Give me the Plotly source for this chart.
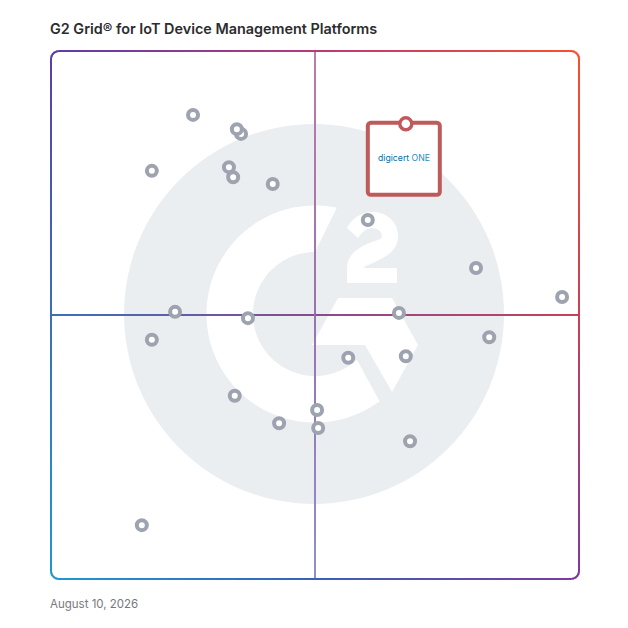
import math
import plotly.graph_objects as go

# vendor positions on the 0-100 grid (satisfaction / market presence)
x_vals = [26.9, 36.0, 35.2, 19.1, 33.7, 34.5, 42.0, 60.0, 80.5, 96.8, 23.5, 37.3,
          65.9, 19.1, 83.0, 56.3, 67.2, 34.8, 43.2, 50.4, 50.6, 68.0, 17.2]
y_vals = [87.9, 84.3, 85.2, 77.3, 78.0, 76.1, 74.8, 68.0, 58.9, 53.4, 50.6, 49.4,
          50.4, 45.3, 45.8, 41.9, 42.2, 34.7, 29.5, 32.0, 28.6, 26.1, 10.2]
featured_x = [67.2]
featured_y = [86.2]

title_text = "G2 Grid® for IoT Device Management Platforms"
date_text = "August 10, 2026"

# gradient colours: rows top/middle/bottom, columns left/middle/right
grid_colors = [["#5a3ea8", "#b83a78", "#f8502e"],
               ["#3a70b8", "#8a4a90", "#c84058"],
               ["#1f98d0", "#3a60b8", "#7a3c9c"]]
vertical_colors = ["#bb7cae", "#9a72ae", "#8f8fd0"]

LEFT, TOP, SIZE = 51, 51, 528
PAD_PX = 6  # pixels kept outside the frame so its stroke is not clipped
PAD = PAD_PX / SIZE * 100
LOGO = "#ebeef1"
GRAY = "#9ea3b0"
CARD = "#bf5a5a"


def dx(px):
    return (px - LEFT) / SIZE * 100


def dy(py):
    return (TOP + SIZE - py) / SIZE * 100


def paper_x(px):
    return (px - LEFT + PAD_PX) / (SIZE + 2 * PAD_PX)


def paper_y(py):
    return (TOP + SIZE + PAD_PX - py) / (SIZE + 2 * PAD_PX)


def mix(c1, c2, t):
    a = [int(c1[i:i + 2], 16) for i in (1, 3, 5)]
    b = [int(c2[i:i + 2], 16) for i in (1, 3, 5)]
    return [a[i] + (b[i] - a[i]) * t for i in range(3)]


def to_hex(rgb):
    return "#%02x%02x%02x" % tuple(int(round(v)) for v in rgb)


def mix3(c, t):
    return to_hex(mix(c[0], c[1], t * 2)) if t < 0.5 else to_hex(mix(c[1], c[2], t * 2 - 1))


def grid_color(u, v):
    cols = [mix3(row, u) for row in grid_colors]
    return mix3(cols, v)


def seg(x0, y0, x1, y1, color, width=2):
    # run a little past the end so neighbouring pieces leave no seam
    n = math.hypot(x1 - x0, y1 - y0) or 1
    x1 = x1 + (x1 - x0) / n * 0.8
    y1 = y1 + (y1 - y0) / n * 0.8
    return dict(type="line", xref="x", yref="y", x0=dx(x0), y0=dy(y0), x1=dx(x1), y1=dy(y1),
                line=dict(color=color, width=width), layer="below")


def arc_pts(cx, cy, r, a0, a1, n=60):
    # angles in degrees, clockwise from the top
    pts = []
    for i in range(n + 1):
        a = math.radians(a0 + (a1 - a0) * i / n)
        pts.append((cx + r * math.sin(a), cy - r * math.cos(a)))
    return pts


def poly_path(pts):
    return "M " + " L ".join("%.3f,%.3f" % (dx(p[0]), dy(p[1])) for p in pts) + " Z"


def filled(path, color):
    return dict(type="path", xref="x", yref="y", path=path, fillcolor=color,
                line=dict(width=0), layer="below")


shapes = []

# big grey disc of the logo
shapes.append(dict(type="circle", xref="x", yref="y", x0=dx(124), x1=dx(504), y0=dy(124), y1=dy(504),
                   fillcolor=LOGO, line=dict(width=0), layer="below"))

# white G: outer arc anticlockwise, inner arc back
g_pts = arc_pts(315, 314, 108.5, 11.6, -216.5, 120) + [(357, 360)] + arc_pts(315, 314, 62, -222, 0, 80)
shapes.append(filled(poly_path(g_pts), "#ffffff"))

# the bar of the G
bar_pts = [(338, 298), (392, 298), (418, 345), (392, 392), (365, 345), (312, 345)]
shapes.append(filled(poly_path(bar_pts), "#ffffff"))

# the small 2
two = [("M", [(347, 228)]),
       ("C", [(352, 218), (362, 212), (372, 212)]),
       ("C", [(387, 212), (398, 222), (398, 236)]),
       ("C", [(398, 250), (387, 256), (377, 261)]),
       ("C", [(370, 265), (365, 265), (364, 268)]),
       ("L", [(397, 268)]), ("L", [(397, 283)]), ("L", [(347, 283)]), ("L", [(347, 268)]),
       ("C", [(347, 256), (356, 249), (367, 244)]),
       ("C", [(376, 240), (382, 240), (382, 236)]),
       ("C", [(382, 231), (377, 228), (372, 228)]),
       ("C", [(367, 228), (362, 232), (358, 238)])]
two_path = " ".join(c + " " + " ".join("%.3f,%.3f" % (dx(p[0]), dy(p[1])) for p in pts) for c, pts in two) + " Z"
shapes.append(filled(two_path, "#ffffff"))

# quadrant lines, cut in short pieces for the gradient
for i in range(0, 528, 6):
    shapes.append(seg(51 + i, 315, 51 + i + 6, 315, grid_color((i + 3) / 528, 0.5)))
    shapes.append(seg(315, 51 + i, 315, 51 + i + 6, mix3(vertical_colors, (i + 3) / 528)))

# rounded outer frame with the same gradient
R = 8
R_L, R_T, R_R, R_B = 51, 51, 579, 579
frame = []
frame += [(x, R_T) for x in range(R_L + R, R_R - R, 6)]
frame += arc_pts(R_R - R, R_T + R, R, 0, 90, 5)
frame += [(R_R, y) for y in range(R_T + R, R_B - R, 6)]
frame += arc_pts(R_R - R, R_B - R, R, 90, 180, 5)
frame += [(x, R_B) for x in range(R_R - R, R_L + R, -6)]
frame += arc_pts(R_L + R, R_B - R, R, 180, 270, 5)
frame += [(R_L, y) for y in range(R_B - R, R_T + R, -6)]
frame += arc_pts(R_L + R, R_T + R, R, 270, 360, 5)
frame.append(frame[0])
for p, q in zip(frame[:-1], frame[1:]):
    mx, my = (p[0] + q[0]) / 2, (p[1] + q[1]) / 2
    shapes.append(seg(p[0], p[1], q[0], q[1], grid_color((mx - 51) / 528, (my - 51) / 528)))

# card of the highlighted product, hung from its point
fx = LEFT + featured_x[0] / 100 * SIZE
fy = TOP + SIZE - featured_y[0] / 100 * SIZE
card_pts = (arc_pts(fx - 35, fy + 2, 3, 270, 360, 4) + arc_pts(fx + 31, fy + 2, 3, 0, 90, 4)
            + arc_pts(fx + 31, fy + 68, 3, 90, 180, 4) + arc_pts(fx - 35, fy + 68, 3, 180, 270, 4))
shapes.append(dict(type="path", xref="x", yref="y", path=poly_path(card_pts), fillcolor="#ffffff",
                   line=dict(color=CARD, width=4), layer="below"))

fig = go.Figure()
fig.add_trace(go.Scatter(x=x_vals, y=y_vals, mode="markers", hoverinfo="skip", cliponaxis=False,
                         marker=dict(size=10, color="#ffffff", line=dict(color=GRAY, width=4))))
fig.add_trace(go.Scatter(x=featured_x, y=featured_y, mode="markers", hoverinfo="skip", cliponaxis=False,
                         marker=dict(size=12, color="#ffffff", line=dict(color=CARD, width=3.5))))

annotations = [
    dict(text=title_text, xref="paper", yref="paper", x=paper_x(48), y=paper_y(29),
         xanchor="left", yanchor="middle", showarrow=False,
         font=dict(family="Inter", size=14.4, weight=600, color="#2c2c2e")),
    dict(text=date_text, xref="paper", yref="paper", x=paper_x(48), y=paper_y(604),
         xanchor="left", yanchor="middle", showarrow=False,
         font=dict(family="Inter", size=11.5, color="#77787c")),
    dict(text="<span style='color:#0070a8'>digicert</span> <span style='color:#2a8cba'>ONE</span>",
         x=dx(403.5), y=dy(158), xref="x", yref="y", showarrow=False,
         font=dict(family="Inter", size=8.7)),
]

fig.update_layout(width=628, height=628,
                  margin=dict(l=51 - PAD_PX, r=49 - PAD_PX, t=51 - PAD_PX, b=49 - PAD_PX),
                  paper_bgcolor="#ffffff", plot_bgcolor="rgba(0,0,0,0)", showlegend=False,
                  shapes=shapes, annotations=annotations)
fig.update_xaxes(range=[-PAD, 100 + PAD], visible=False, fixedrange=True)
fig.update_yaxes(range=[-PAD, 100 + PAD], visible=False, fixedrange=True)

fig.write_html("out.html", post_script="document.body.style.margin='0';", config=dict(displayModeBar=False))
